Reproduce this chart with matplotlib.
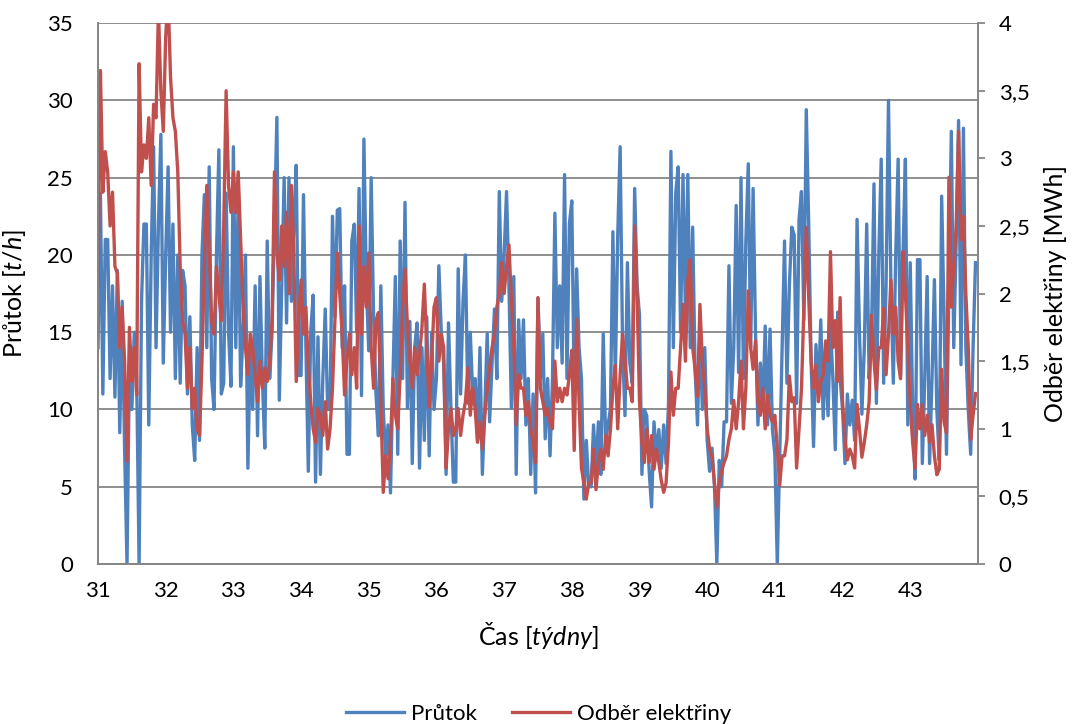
import numpy as np
import matplotlib
matplotlib.use("Agg")
import matplotlib.pyplot as plt
from matplotlib.ticker import FuncFormatter

plt.rcParams["font.family"] = ["Lato", "DejaVu Sans"]
plt.rcParams["mathtext.fontset"] = "custom"
plt.rcParams["mathtext.rm"] = "Lato"
plt.rcParams["mathtext.it"] = "Lato:italic"

# průtok [t/h], 4 hodnoty za den (po 6 h), od začátku 31. týdne
flow = [
    14, 24, 11, 21,  21, 12, 18, 10.8,  19, 8.5, 17, 7.4,  0, 13, 10, 15,
    12, 0, 17, 22,  22, 9, 20, 27,  14, 22, 27.8, 13,
    20, 25.7, 15, 22,  12, 20, 11.7, 19,  18, 11, 16, 9,  6.7, 14, 8, 20,
    23.9, 14, 25.7, 12,  10, 20, 26.8, 11,  11.7, 24, 15, 11.5,
    27, 14, 24, 11.5,  15, 20, 6.2, 14,  10, 18, 8.3, 18.6,  12, 7.5, 20.9, 12,
    15, 22, 28.9, 10.6,  18, 25, 15.6, 25,  17, 22, 25.8, 12.2,
    12.2, 23.9, 14, 6,  15, 17.4, 5.3, 14.7,  5.8, 12, 16.5, 10,  10, 22.5, 16, 22.9,
    23, 14, 18, 7.1,  7.1, 20.9, 22, 15,  24.3, 10.9, 27.5, 18,
    13.8, 25, 16, 11,  8.3, 18, 10, 7,  9, 4.6, 12, 18.6,  7.1, 20.9, 12, 23.4,
    10.1, 15.7, 6.5, 14,  15.6, 6.2, 14, 8,  16, 7, 15, 10,
    12, 19.3, 15, 13,  5.8, 15.6, 10, 5.3,  5.3, 19.1, 11, 17,  20, 10.4, 15, 11,
    12, 8, 14, 5.8,  10, 14.9, 9.2, 13,  16.5, 12, 24.1, 17,
    20, 24.1, 18, 10.1,  18.6, 5.8, 15.8, 12,  15.8, 9, 12, 5.8,  11, 4.6, 17.2, 12,
    14.9, 8.1, 12, 7,  12, 22.7, 14, 18,  13, 25.2, 12, 22,
    23.5, 10.8, 19.1, 14,  12, 4.2, 8, 5,  5, 9, 6, 9.2,  5.8, 14.9, 8, 9,
    10.1, 21.5, 12, 21.3,  27, 14, 9.6, 19.5,  13, 11.7, 24.3, 18,
    16.1, 5.8, 10, 9.6,  6, 3.7, 9.2, 7,  8.7, 6.2, 9, 6.5,  10.4, 26.7, 14, 24,
    25.7, 15, 25.2, 16,  25.2, 14, 21.8, 12.6,  9, 15.4, 10, 14,
    8, 6, 7.5, 5.1,  0, 6.7, 5, 9.2,  9.2, 19.3, 10.4, 14,  23.2, 12.4, 25, 12,
    20.9, 25.9, 14, 24.3,  15, 9, 13, 10,  15.4, 9, 15.2, 8.7,
    7.1, 0, 7, 14,  20.9, 11.7, 18, 21.8,  21.3, 10.4, 22.3, 24.1,  15.8, 29.4, 22, 13.1,
    7.6, 14.2, 11, 15.8,  9.4, 14, 9.6, 15.4,  12, 7.4, 16.3, 12,
    10, 6.5, 11, 9,  10.6, 8, 22.3, 15,  9.7, 14, 22, 12,  15, 24.6, 10.4, 20,
    26.2, 11.7, 18, 30,  18, 11.7, 20, 26.2,  12.2, 20, 26.2, 9,
    19.5, 10, 5.5, 19.7,  19.7, 6.5, 12, 18.6,  6.5, 12, 18.4, 10,  6.7, 23.8, 16, 7.1,
    18.1, 28, 14, 20.7,  28.7, 12.9, 28.2, 14,  10, 7.1, 14, 19.5,
]

# odběr elektřiny [MWh], stejné časy
power = [
    2.05, 3.65, 2.75, 3.05,  2.9, 2.5, 2.75, 2.2,  2.15, 1.6, 1.9, 1.5,  0.76, 1.75, 1.35, 1.6,
    1.25, 3.7, 2.9, 3.1,  3.0, 3.3, 2.8, 3.4,  3.3, 4.1, 3.5, 3.2,
    3.9, 4.2, 3.6, 3.3,  3.2, 2.9, 2.2, 1.8,  1.7, 1.3, 1.6, 1.15,  1.3, 1.0, 0.95, 1.5,
    2.2, 2.8, 2.3, 1.8,  1.7, 2.2, 2.0, 1.8,  2.5, 3.5, 2.8, 2.6,
    2.9, 2.6, 2.9, 2.4,  1.9, 1.6, 1.4, 1.7,  1.6, 1.4, 1.2, 1.5,  1.3, 1.45, 1.35, 1.5,
    1.8, 2.9, 2.3, 2.1,  2.5, 2.2, 2.6, 2.0,  2.8, 2.3, 1.35, 1.8,
    2.1, 1.7, 1.9, 1.45,  1.2, 1.0, 0.9, 1.15,  1.1, 0.95, 1.2, 0.85,  1.0, 1.3, 1.8, 2.3,
    2.0, 1.7, 1.25, 1.5,  1.7, 1.4, 1.6, 1.3,  2.5, 1.7, 2.2, 1.9,
    2.3, 1.6, 1.3, 1.8,  1.86, 1.2, 0.53, 0.8,  0.63, 0.9, 1.37, 1.1,  1.0, 1.4, 1.9, 2.18,
    1.76, 1.5, 1.3, 1.6,  1.4, 1.55, 1.75, 2.07,  1.6, 1.16, 1.5, 1.9,
    1.97, 1.5, 1.7, 1.6,  0.71, 1.0, 1.15, 0.95,  1.0, 1.15, 0.95, 1.1,  1.2, 1.45, 1.1, 1.3,
    1.15, 0.9, 1.05, 0.85,  1.1, 1.3, 1.45, 1.6,  1.7, 1.9, 2.0, 2.23,
    2.0, 2.2, 2.36, 1.95,  1.6, 1.03, 1.4, 1.3,  1.3, 1.1, 1.2, 1.0,  0.9, 0.75, 1.97, 1.3,
    1.2, 1.1, 1.15, 1.05,  1.0, 1.5, 1.2, 1.3,  1.2, 1.3, 1.25, 1.4,
    1.58, 0.84, 1.81, 1.2,  0.71, 0.6, 0.48, 0.6,  0.6, 0.85, 0.55, 0.75,  0.85, 0.7, 0.95, 0.8,
    1.0, 1.3, 1.47, 1.0,  1.4, 1.7, 1.5, 1.3,  1.3, 1.2, 2.5, 2.0,
    1.2, 0.9, 0.75, 1.0,  0.75, 0.95, 0.7, 0.85,  0.75, 0.62, 0.53, 0.6,  0.9, 1.42, 1.1, 1.3,
    1.3, 1.6, 1.92, 1.5,  2.1, 2.25, 1.6, 1.44,  1.24, 1.92, 1.5, 1.3,
    1.0, 0.85, 0.79, 0.6,  0.42, 0.6, 0.69, 0.75,  0.8, 0.92, 1.0, 1.21,  1.0, 1.2, 1.5, 1.0,
    1.3, 2.02, 1.6, 1.44,  1.65, 1.2, 1.1, 1.3,  1.0, 1.25, 1.1, 1.05,
    1.1, 0.85, 0.58, 0.8,  0.8, 0.92, 1.39, 1.2,  1.23, 0.71, 1.0, 1.29,  1.9, 2.49, 1.97, 1.5,
    1.3, 1.47, 1.2, 1.35,  1.4, 1.65, 1.5, 2.31,  1.6, 1.8, 1.35, 1.97,
    1.2, 0.92, 0.77, 0.85,  0.8, 0.71, 1.18, 1.0,  0.79, 0.9, 1.03, 1.2,  1.84, 1.5, 1.29, 1.6,
    1.6, 1.89, 1.4, 1.7,  2.1, 1.7, 1.9, 1.5,  1.37, 2.31, 2.0, 1.6,
    1.18, 0.9, 0.71, 1.18,  1.0, 1.18, 0.95, 1.1,  0.9, 1.03, 0.8, 0.66,  0.7, 1.44, 1.05, 0.97,
    2.86, 1.9, 2.2, 2.5,  3.2, 2.4, 2.57, 2.0,  1.6, 0.92, 1.1, 1.26,
]

week_ticks = list(range(31, 44))

weeks = 31 + np.arange(len(flow)) / 28.0

BLUE = "#4F81BD"
RED = "#C0504D"
GRID = "#868686"

fig = plt.figure(figsize=(10.77, 7.24), dpi=100)
ax = fig.add_axes([0.091, 0.221, 0.817, 0.747])
ax2 = ax.twinx()

l1, = ax.plot(weeks, flow, color=BLUE, lw=2.4, label="Průtok")
l2, = ax2.plot(weeks, power, color=RED, lw=2.4, label="Odběr elektřiny")

ax.set_xlim(31, 44)
ax.set_ylim(0, 35)
ax2.set_ylim(0, 4)
ax.set_yticks(range(0, 36, 5))
ax2.set_yticks(np.arange(0, 4.01, 0.5))
ax2.yaxis.set_major_formatter(FuncFormatter(lambda v, p: f"{v:g}".replace(".", ",")))
ax.set_xticks(week_ticks)

ax.yaxis.grid(True, color=GRID, lw=1.3)
ax.set_axisbelow(True)
for a in (ax, ax2):
    for s in a.spines.values():
        s.set_color(GRID)
        s.set_linewidth(1.3)
ax.spines["top"].set_visible(False)
ax2.spines["top"].set_visible(False)
ax.tick_params(axis="y", length=0, labelsize=16, pad=18)
ax.tick_params(axis="x", length=0, labelsize=16, pad=12)
ax2.tick_params(axis="y", length=5, color=GRID, width=1.3, labelsize=16, pad=10)

ax.set_ylabel("Průtok [$\\mathit{t/h}$]", fontsize=18, labelpad=14)
ax2.set_ylabel("Odběr elektřiny [MWh]", fontsize=18, labelpad=10)
ax.set_xlabel("Čas [$\\mathit{týdny}$]", fontsize=18, labelpad=14)

fig.legend(handles=[l1, l2], loc="lower center", bbox_to_anchor=(0.5, -0.027),
           ncol=2, frameon=False, fontsize=16, handlelength=2.6,
           handletextpad=0.3, columnspacing=1.6)

fig.savefig("out.png", dpi=100)
